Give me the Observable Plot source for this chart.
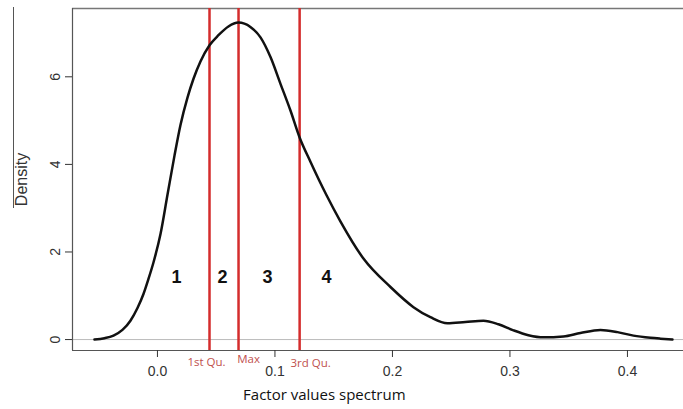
<!DOCTYPE html>
<html><head><meta charset="utf-8">
<script src="https://cdn.jsdelivr.net/npm/d3@7"></script>
<script src="https://cdn.jsdelivr.net/npm/@observablehq/plot@0.6"></script>
<style>
body{margin:0;background:#fff;}
#wrap{position:relative;width:683px;height:409px;overflow:hidden;}
#edge{position:absolute;left:13px;top:7px;height:201px;border-left:1.5px solid #555;}
#wrap svg{position:absolute;left:0;top:0;}
</style></head><body>
<div id="wrap"><div id="edge"></div></div>
<script>
// Density curve (x = factor value, y = density)
const curveX = [-0.0536,-0.0451,-0.0374,-0.0298,-0.0230,-0.0170,-0.0119,-0.0077,-0.0034,0.0026,0.0085,0.0145,0.0196,0.0255,0.0306,0.0366,0.0443,0.0519,0.0604,0.0689,0.0791,0.0877,0.0962,0.1047,0.1132,0.1209,0.1302,0.1438,0.1557,0.1753,0.1983,0.2179,0.2323,0.2468,0.2621,0.2774,0.2902,0.3030,0.3157,0.3285,0.3455,0.3600,0.3770,0.3915,0.4051,0.4196,0.4281,0.4383];
const curveY = [0.00,0.03,0.09,0.22,0.43,0.72,1.04,1.38,1.76,2.41,3.30,4.20,4.90,5.52,5.95,6.35,6.72,6.95,7.15,7.24,7.14,6.90,6.45,5.84,5.23,4.62,4.06,3.30,2.70,1.85,1.20,0.74,0.51,0.37,0.40,0.43,0.35,0.21,0.10,0.05,0.07,0.15,0.22,0.17,0.09,0.04,0.02,0.00];
// Vertical markers
const markerNames = ["1st Qu.","Max","3rd Qu."];
const markerValues = [0.0443, 0.069, 0.121];
// Region labels
const regionNames = ["1","2","3","4"];
const regionX = [0.0162, 0.0553, 0.0936, 0.1438];
const regionY = [1.42, 1.42, 1.42, 1.42];
// Axes
const xTicks = [0, 0.1, 0.2, 0.3, 0.4];
const yTicks = [0, 2, 4, 6];
const xTitle = "Factor values spectrum";
const yTitle = "Density";

const curve = curveX.map((x, i) => ({x, y: curveY[i]}));
const markers = markerNames.map((name, i) => ({name, x: markerValues[i]}));
const regions = regionNames.map((name, i) => ({name, x: regionX[i], y: regionY[i]}));

const xDom = [-0.0723, 0.4477];
const yDom = [-0.25, 7.56];
const red = "#d42c2c";
const labelDx = [-3, 10, 11];
const labelDy = [15, 12, 16];

const chart = Plot.plot({
  width: 683,
  height: 409,
  marginLeft: 72,
  marginRight: 0,
  marginTop: 8,
  marginBottom: 59,
  style: {fontFamily: "'Liberation Sans', Arial, sans-serif", background: "transparent"},
  x: {domain: xDom},
  y: {domain: yDom},
  marks: [
    Plot.ruleY([0], {stroke: "#bbb", strokeWidth: 1}),
    Plot.ruleY([yDom[1]], {stroke: "#777", strokeWidth: 1.5}),
    Plot.ruleY([yDom[0]], {stroke: "#555", strokeWidth: 1.2}),
    Plot.ruleX([xDom[0]], {stroke: "#555", strokeWidth: 1.2}),
    Plot.ruleX(markers, {x: "x", stroke: red, strokeWidth: 2.5}),
    Plot.line(curve, {x: "x", y: "y", stroke: "#111", strokeWidth: 2.5, curve: "monotone-x"}),
    Plot.text(regions, {x: "x", y: "y", text: "name", fontSize: 18, fontWeight: "bold", fill: "#111"}),
    ...markers.map((m, i) => Plot.text([m], {x: "x", text: "name", frameAnchor: "bottom", dx: labelDx[i], dy: labelDy[i], fill: "#c0504d", fontSize: 11.5, fontFamily: "'Open Sans', sans-serif"})),
    Plot.axisX({ticks: xTicks, tickFormat: d3.format(".1f"), tickSize: 7, tickPadding: 9, fontSize: 14, color: "#333", label: null}),
    Plot.axisY({ticks: yTicks, tickSize: 7, tickRotate: -90, tickPadding: 6, fontSize: 14, color: "#333", label: null}),
    Plot.text([xTitle], {x: 0.142, frameAnchor: "bottom", dy: 49, fontSize: 15, fill: "#111", fontFamily: "'Open Sans', sans-serif"}),
    Plot.text([yTitle], {frameAnchor: "left", textAnchor: "middle", dx: -51, rotate: -90, fontSize: 16, fill: "#333"})
  ]
});
document.getElementById("wrap").appendChild(chart);
</script>
</body></html>
